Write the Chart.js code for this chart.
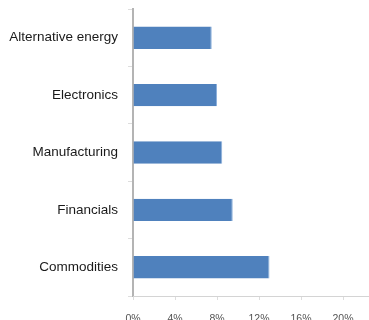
<!DOCTYPE html>
<html>
<head>
<meta charset="utf-8">
<script src="https://cdn.jsdelivr.net/npm/chart.js@4"></script>
<style>
  html, body { margin: 0; padding: 0; background: #fff; overflow: hidden; }
  #wrap { width: 400px; height: 340px; }
</style>
</head>
<body>
<div id="wrap"><canvas id="myChart" width="400" height="340"></canvas></div>
<script>
const sectors = ['Alternative energy', 'Electronics', 'Manufacturing', 'Financials', 'Commodities'];
const shares = [7.5, 8.0, 8.5, 9.5, 13.0];
const xTicks = [0, 4, 8, 12, 16, 20, 24];

const ctx = document.getElementById('myChart');

new Chart(ctx, {
  type: 'bar',
  data: {
    labels: sectors,
    datasets: [{
      data: shares,
      backgroundColor: '#4f81bd',
      borderColor: '#8db0db',
      borderWidth: { top: 0, bottom: 0, left: 0, right: 1 },
      borderSkipped: false,
      barPercentage: 0.39,
      categoryPercentage: 1
    }]
  },
  options: {
    indexAxis: 'y',
    responsive: false,
    animation: false,
    layout: { padding: { top: 9, right: 15, left: 0, bottom: 0 } },
    plugins: { legend: { display: false }, tooltip: { enabled: false } },
    scales: {
      y: {
        afterFit: scale => {
          scale.width = 133;
          scale.paddingTop = 0;
          scale.paddingBottom = 0;
        },
        border: { color: '#b4b4b4', width: 2 },
        grid: { drawOnChartArea: false, tickLength: 5, color: '#dddddd' },
        ticks: {
          padding: 10,
          color: '#1a1a1a',
          font: { family: 'Liberation Sans', size: 13.5 }
        }
      },
      x: {
        min: 0,
        max: 24,
        afterFit: scale => {
          scale.height = 44;
          scale.paddingLeft = 0;
          scale.paddingRight = 0;
        },
        afterBuildTicks: scale => { scale.ticks = xTicks.map(v => ({ value: v })); },
        border: { color: '#d4d4d4', width: 1 },
        grid: { drawOnChartArea: false, tickLength: 4, color: '#dddddd' },
        ticks: {
          padding: 13,
          color: '#555555',
          font: { family: 'Liberation Sans', size: 10.5 },
          callback: v => v + '%'
        }
      }
    }
  }
});
</script>
</body>
</html>
